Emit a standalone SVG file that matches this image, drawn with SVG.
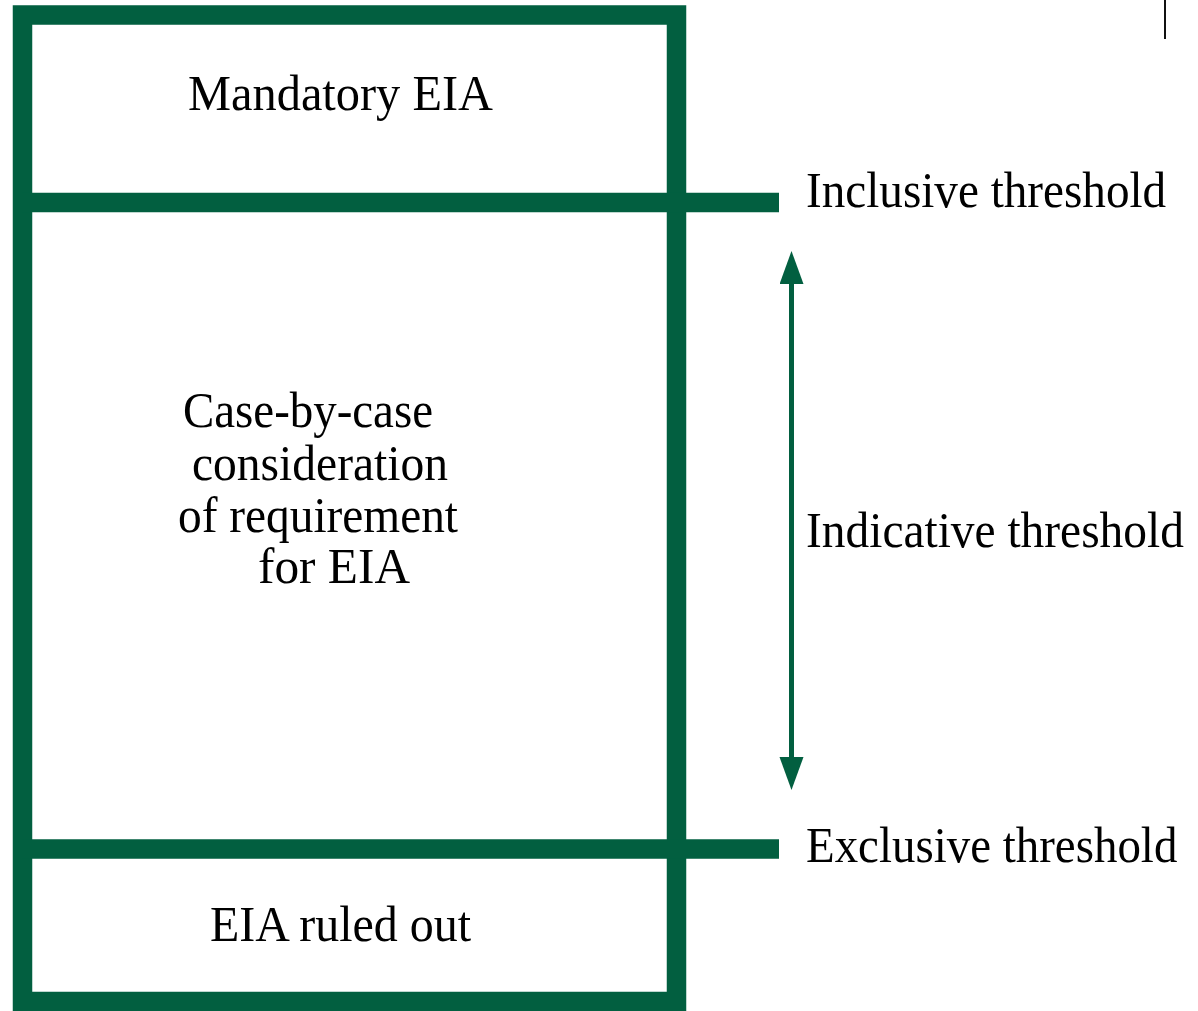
<svg xmlns="http://www.w3.org/2000/svg" width="1198" height="1011" viewBox="0 0 1198 1011">
  <style>
    .band { fill: none; stroke: #025F40; stroke-width: 19.5; }
    .label { font-family: "Liberation Serif", "Times New Roman", serif; font-size: 51px; fill: #000; }
    .conn { stroke: #025F40; stroke-width: 5; fill: none; }
  </style>
  <defs>
    <marker id="head" markerUnits="userSpaceOnUse" markerWidth="34" markerHeight="25" refX="0" refY="12" orient="auto-start-reverse">
      <path d="M0,0 L33,12 L0,24 z" fill="#025F40"/>
    </marker>
  </defs>

  <rect x="0" y="0" width="1198" height="1011" fill="#fff"/>

  <!-- outer frame with the two threshold bands -->
  <g id="frame">
    <rect class="band" x="22.5" y="15" width="654" height="986.5"/>
    <line class="band" x1="22" y1="202.5" x2="779" y2="202.5"/>
    <line class="band" x1="22" y1="849" x2="779" y2="849"/>
  </g>

  <g id="mandatory">
    <text class="label" x="188" y="110" textLength="305" lengthAdjust="spacingAndGlyphs">Mandatory EIA</text>
  </g>

  <g id="case-by-case">
    <text class="label" x="183" y="427" textLength="250" lengthAdjust="spacingAndGlyphs">Case-by-case</text>
    <text class="label" x="192" y="480" textLength="256" lengthAdjust="spacingAndGlyphs">consideration</text>
    <text class="label" x="178" y="532" textLength="280" lengthAdjust="spacingAndGlyphs">of requirement</text>
    <text class="label" x="258" y="583" textLength="152" lengthAdjust="spacingAndGlyphs">for EIA</text>
  </g>

  <g id="ruled-out">
    <text class="label" x="210" y="941" textLength="261" lengthAdjust="spacingAndGlyphs">EIA ruled out</text>
  </g>

  <g id="inclusive">
    <text class="label" transform="translate(806 207) scale(0.925 1)">Inclusive threshold</text>
  </g>

  <g id="indicative">
    <text class="label" transform="translate(806 547) scale(0.93 1)">Indicative threshold</text>
  </g>

  <g id="exclusive">
    <text class="label" transform="translate(806 862) scale(0.92 1)">Exclusive threshold</text>
  </g>

  <g id="connectors">
    <line class="conn" x1="791.5" y1="284" x2="791.5" y2="757" marker-start="url(#head)" marker-end="url(#head)"/>
  </g>

  <line x1="1165" y1="0" x2="1165" y2="39" stroke="#111" stroke-width="2"/>
</svg>
